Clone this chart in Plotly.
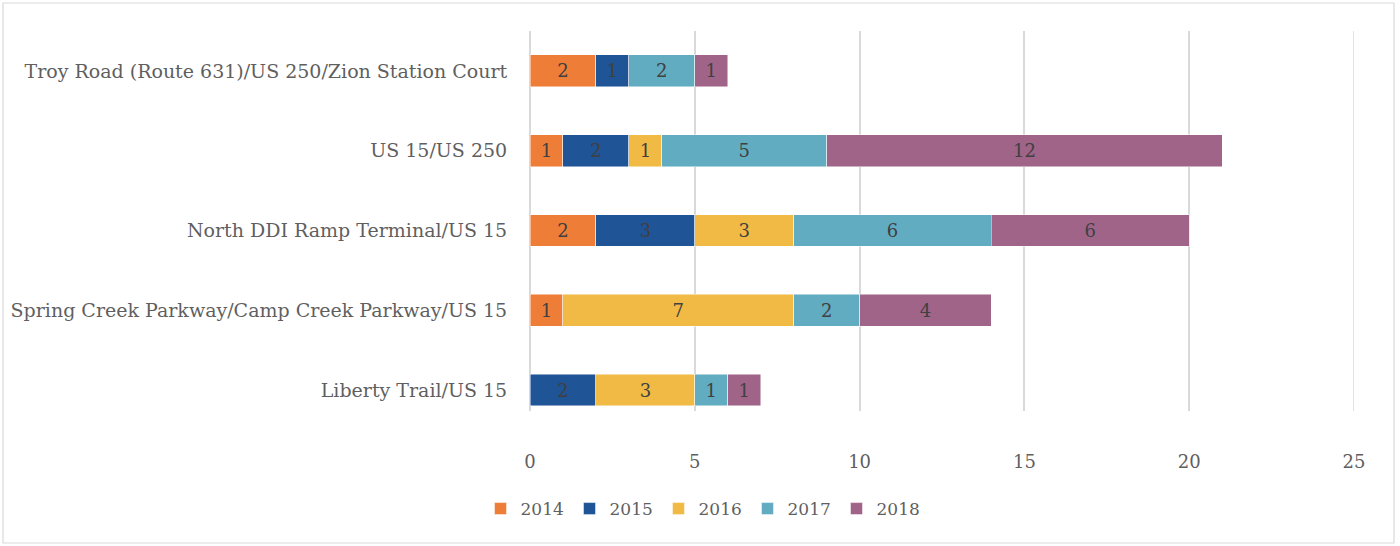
import plotly.graph_objects as go

# Intersections, listed bottom to top
intersections = [
    "Liberty Trail/US 15",
    "Spring Creek Parkway/Camp Creek Parkway/US 15",
    "North DDI Ramp Terminal/US 15",
    "US 15/US 250",
    "Troy Road (Route 631)/US 250/Zion Station Court",
]

years = ["2014", "2015", "2016", "2017", "2018"]

# Crash counts per year (None = no crashes that year)
counts_2014 = [None, 1, 2, 1, 2]
counts_2015 = [2, None, 3, 2, 1]
counts_2016 = [3, 7, 3, 1, None]
counts_2017 = [1, 2, 6, 5, 2]
counts_2018 = [1, 4, 6, 12, 1]

x_ticks = [0, 5, 10, 15, 20, 25]

series = [counts_2014, counts_2015, counts_2016, counts_2017, counts_2018]
colors = ["#EE7D37", "#1F5496", "#F0BA45", "#62ACC2", "#A16489"]

FONT = "DejaVu Serif, Liberation Serif, serif"
FSIZE = 18
GRID = "#D9D9D9"

fig = go.Figure()
for year, vals, col in zip(years, series, colors):
    fig.add_trace(go.Bar(
        y=intersections,
        x=vals,
        name=year,
        orientation="h",
        width=0.4,
        marker=dict(color=col, line=dict(color="rgba(255,255,255,0.6)", width=0.8)),
        text=[("" if v is None else str(v)) for v in vals],
        textposition="inside",
        insidetextanchor="middle",
        constraintext="none",
        textfont=dict(family=FONT, size=FSIZE, color="#404040"),
        hoverinfo="x+y+name",
    ))

# light frame around the whole chart
plot_l, plot_r, plot_t, plot_b = 530, 1354, 31, 411
W, H = 1400, 546
pw, ph = plot_r - plot_l, plot_b - plot_t

def px_x(p):
    return (p - plot_l) / pw

def px_y(p):
    return (plot_b - p) / ph

fig.add_shape(
    type="rect", xref="paper", yref="paper",
    x0=px_x(3), x1=px_x(1394), y0=px_y(543), y1=px_y(3),
    line=dict(color=GRID, width=1.2), fillcolor="rgba(0,0,0,0)", layer="below",
)

# the gridline on the right edge of the plot is not drawn by plotly itself
fig.add_shape(
    type="line", xref="x", yref="paper",
    x0=x_ticks[-1], x1=x_ticks[-1], y0=0, y1=1,
    line=dict(color=GRID, width=1.5), layer="below",
)

fig.update_layout(
    barmode="stack",
    width=W, height=H,
    margin=dict(l=plot_l, r=W - plot_r, t=plot_t, b=H - plot_b, autoexpand=False),
    paper_bgcolor="white",
    plot_bgcolor="white",
    font=dict(family=FONT, size=FSIZE, color="#5F5F5F"),
    showlegend=True,
    legend=dict(
        orientation="h",
        x=px_x(703), xanchor="center",
        y=px_y(509), yanchor="middle",
        font=dict(family=FONT, size=17, color="#5F5F5F"),
        entrywidth=44,
        entrywidthmode="pixels",
        itemwidth=30,
        traceorder="normal",
        tracegroupgap=0,
    ),
    xaxis=dict(
        range=[0, 25],
        tickvals=x_ticks,
        ticktext=[str(t) for t in x_ticks],
        showgrid=True,
        gridcolor=GRID,
        gridwidth=1.5,
        zeroline=True,
        zerolinecolor=GRID,
        zerolinewidth=1.5,
        showline=False,
        ticks="outside",
        ticklen=34,
        tickcolor="rgba(0,0,0,0)",
        tickfont=dict(family=FONT, size=FSIZE, color="#5F5F5F"),
        fixedrange=True,
    ),
    yaxis=dict(
        type="category",
        categoryorder="array",
        categoryarray=intersections,
        range=[-0.263, 4.5],
        showgrid=False,
        zeroline=False,
        showline=False,
        ticks="outside",
        ticklen=18,
        tickcolor="rgba(0,0,0,0)",
        tickfont=dict(family=FONT, size=19, color="#5F5F5F"),
        fixedrange=True,
    ),
    bargap=0.6,
)

fig.write_html("out.html")
